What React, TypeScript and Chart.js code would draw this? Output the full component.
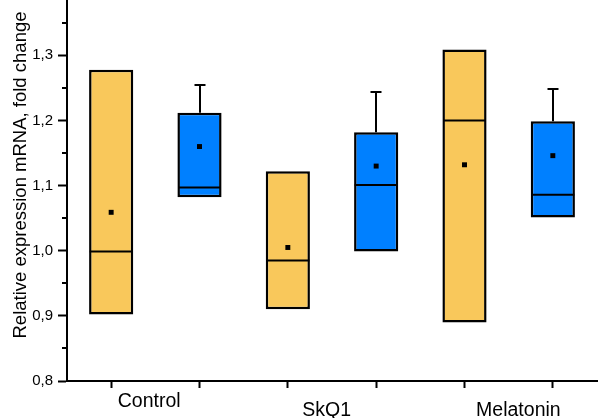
import React, { useEffect, useRef } from "react";
import { Chart, registerables } from "chart.js";

Chart.register(...registerables);

// ---- data ----
const groups = ["Control", "SkQ1", "Melatonin"];
const groupLabelX = [1.43, 3.44, 5.61];
const posA = [1, 3, 5];
const posB = [2, 4, 6];
const q1A = [0.902, 0.91, 0.89];
const q3A = [1.278, 1.122, 1.309];
const medianA = [0.999, 0.985, 1.2];
const meanA = [1.059, 1.005, 1.132];
const q1B = [1.082, 0.999, 1.051];
const q3B = [1.212, 1.182, 1.199];
const medianB = [1.097, 1.101, 1.086];
const meanB = [1.16, 1.13, 1.146];
const whiskerHighB = [1.255, 1.244, 1.249];
const xTicks = [1, 2, 3, 4, 5, 6];
const yMajorTicks = [0.8, 0.9, 1.0, 1.1, 1.2, 1.3];
const yMinorTicks = [0.85, 0.95, 1.05, 1.15, 1.25, 1.35];
const yMin = 0.8;
const yMax = 1.385;
const xMin = 0.5;
const xMax = 6.5;
const yTitle = "Relative expression mRNA, fold change";

const FONT = '"Liberation Sans", Arial, sans-serif';
const ORANGE = "#F9C85B";
const BLUE = "#0080FF";

const extrasPlugin = {
  id: "boxExtras",
  afterDatasetsDraw(chart: any) {
    const { ctx, scales } = chart;
    const x = scales.x;
    const y = scales.y;
    ctx.save();
    ctx.strokeStyle = "#000";
    ctx.lineWidth = 2;
    posB.forEach((p, i) => {
      const px = Math.round(x.getPixelForValue(p));
      const top = Math.round(y.getPixelForValue(whiskerHighB[i]));
      const boxTop = y.getPixelForValue(q3B[i]);
      ctx.beginPath();
      ctx.moveTo(px, boxTop);
      ctx.lineTo(px, top);
      ctx.stroke();
      ctx.beginPath();
      ctx.moveTo(px - 5.5, top);
      ctx.lineTo(px + 5.5, top);
      ctx.stroke();
    });
    ctx.restore();
  },
  afterDraw(chart: any) {
    const { ctx, chartArea, scales } = chart;
    const x = scales.x;
    const y = scales.y;
    ctx.save();
    // minor ticks on y axis
    ctx.strokeStyle = "#000";
    ctx.lineWidth = 2;
    yMinorTicks.forEach((v) => {
      const py = Math.round(y.getPixelForValue(v));
      ctx.beginPath();
      ctx.moveTo(chartArea.left - 5, py);
      ctx.lineTo(chartArea.left, py);
      ctx.stroke();
    });
    // group labels
    ctx.fillStyle = "#000";
    ctx.font = `19.5px ${FONT}`;
    ctx.textAlign = "center";
    ctx.textBaseline = "alphabetic";
    groups.forEach((g, i) => {
      ctx.fillText(g, x.getPixelForValue(groupLabelX[i]), chartArea.bottom + (i === 0 ? 26 : 34.5));
    });
    // y title
    ctx.font = `18.5px ${FONT}`;
    ctx.translate(25.5, (chartArea.top + chartArea.bottom) / 2 - 15.5);
    ctx.rotate(-Math.PI / 2);
    ctx.textAlign = "center";
    ctx.fillText(yTitle, 0, 0);
    ctx.restore();
  },
};

export default function App() {
  const ref = useRef<HTMLCanvasElement>(null);
  useEffect(() => {
    document.body.style.margin = "0";
    const chart = new Chart(ref.current as HTMLCanvasElement, {
      type: "bar",
      data: {
        datasets: [
          {
            type: "line",
            label: "Mean",
            data: [
              ...posA.map((p, i) => ({ x: p, y: meanA[i] })),
              ...posB.map((p, i) => ({ x: p, y: meanB[i] })),
            ],
            showLine: false,
            pointStyle: "rect",
            pointRadius: 3.5,
            pointHoverRadius: 3.5,
            pointBackgroundColor: "#000",
            pointBorderWidth: 0,
            order: 0,
          } as any,
          {
            type: "line",
            label: "Median",
            data: [
              ...posA.map((p, i) => ({ x: p, y: medianA[i] })),
              ...posB.map((p, i) => ({ x: p, y: medianB[i] })),
            ],
            showLine: false,
            pointStyle: "line",
            pointRadius: 21.5,
            pointHoverRadius: 21.5,
            pointBorderColor: "#000",
            pointBorderWidth: 2,
            order: 1,
          } as any,
          {
            type: "bar",
            label: "Series A",
            data: posA.map((p, i) => ({ x: p, y: [q1A[i], q3A[i]] })),
            backgroundColor: ORANGE,
            borderColor: "#000",
            borderWidth: 2.5,
            borderSkipped: false,
            grouped: false,
            categoryPercentage: 1,
            barPercentage: 0.5,
            order: 3,
          } as any,
          {
            type: "bar",
            label: "Series B",
            data: posB.map((p, i) => ({ x: p, y: [q1B[i], q3B[i]] })),
            backgroundColor: BLUE,
            borderColor: "#000",
            borderWidth: 2.5,
            borderSkipped: false,
            grouped: false,
            categoryPercentage: 1,
            barPercentage: 0.5,
            order: 3,
          } as any,
        ],
      },
      options: {
        animation: false,
        responsive: true,
        maintainAspectRatio: false,
        devicePixelRatio: 1,
        events: [],
        layout: { autoPadding: false, padding: { left: 0, top: 0, right: 11, bottom: 0 } },
        plugins: {
          legend: { display: false },
          tooltip: { enabled: false },
          title: { display: false },
        },
        scales: {
          x: {
            type: "linear",
            min: xMin,
            max: xMax,
            offset: false,
            afterBuildTicks: (scale: any) => {
              scale.ticks = xTicks.map((v) => ({ value: v }));
            },
            afterFit: (scale: any) => {
              scale.height = 37;
              scale.paddingLeft = 0;
              scale.paddingRight = 0;
            },
            ticks: { display: false },
            grid: {
              offset: false,
              drawOnChartArea: false,
              drawTicks: true,
              tickLength: 7,
              tickWidth: 2,
              tickColor: "#000",
            },
            border: { display: true, color: "#000", width: 2 },
          },
          y: {
            type: "linear",
            min: yMin,
            max: yMax,
            beginAtZero: false,
            afterBuildTicks: (scale: any) => {
              scale.ticks = yMajorTicks.map((v) => ({ value: v }));
            },
            afterFit: (scale: any) => {
              scale.width = 67;
              scale.paddingTop = 0;
              scale.paddingBottom = 0;
            },
            ticks: {
              color: "#000",
              padding: 5,
              font: { family: FONT, size: 15 },
              callback: (v: any) => Number(v).toFixed(1).replace(".", ","),
            },
            grid: {
              drawOnChartArea: false,
              drawTicks: true,
              tickLength: 9,
              tickWidth: 2,
              tickColor: "#000",
            },
            border: { display: true, color: "#000", width: 2 },
          },
        },
      } as any,
      plugins: [extrasPlugin],
    });
    return () => chart.destroy();
  }, []);
  return (
    <div style={{ position: "relative", width: 608, height: 418 }}>
      <canvas ref={ref} />
    </div>
  );
}
